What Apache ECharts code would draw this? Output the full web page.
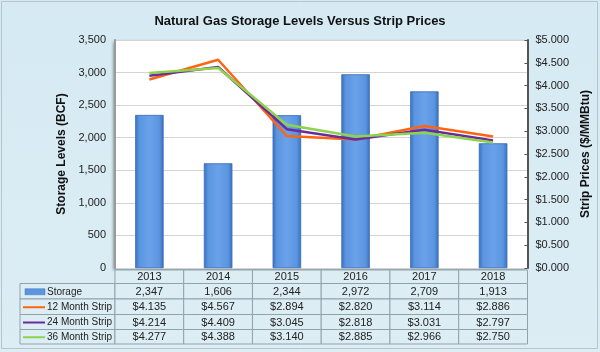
<!DOCTYPE html>
<html>
<head>
<meta charset="utf-8">
<script src="https://cdn.jsdelivr.net/npm/echarts@6/dist/echarts.min.js"></script>
<style>
  html, body { margin: 0; padding: 0; background: #fff; }
  #chart { width: 600px; height: 352px; }
</style>
</head>
<body>
<div id="chart"></div>
<script>
// chart data
const years = ['2013', '2014', '2015', '2016', '2017', '2018']
const storage = [2347, 1606, 2344, 2972, 2709, 1913]
const strip12 = [4.135, 4.567, 2.894, 2.820, 3.114, 2.886]
const strip24 = [4.214, 4.409, 3.045, 2.818, 3.031, 2.797]
const strip36 = [4.277, 4.388, 3.140, 2.885, 2.966, 2.750]
const storageTicks = [0, 500, 1000, 1500, 2000, 2500, 3000, 3500]
const priceTicks = [0, 0.5, 1, 1.5, 2, 2.5, 3, 3.5, 4, 4.5, 5]

const rows = [
  { name: 'Storage', data: storage, color: '#4a86d6', bar: true },
  { name: '12 Month Strip', data: strip12, color: '#ff6410' },
  { name: '24 Month Strip', data: strip24, color: '#6a2c9c' },
  { name: '36 Month Strip', data: strip36, color: '#8ed34c' }
]

const fmtNum = v => v.toLocaleString('en-US')
const fmtPrice = v => '$' + v.toFixed(3)

const font = 'Liberation Sans, Arial, sans-serif'
const plotL = 115, plotR = 528, plotT = 40, plotB = 268

const chart = echarts.init(document.getElementById('chart'))

chart.setOption({
  animation: false,
  backgroundColor: {
    type: 'linear', x: 0, y: 0, x2: 0, y2: 1,
    colorStops: [{ offset: 0, color: '#d6eaf3' }, { offset: 1, color: '#dcedf4' }]
  },
  textStyle: { fontFamily: font },
  title: {
    text: 'Natural Gas Storage Levels Versus Strip Prices',
    left: 'center',
    top: 10,
    textStyle: { fontSize: 13, fontWeight: 'bold', color: '#111' }
  },
  grid: {
    left: plotL, right: 600 - plotR, top: plotT, bottom: 352 - plotB,
    show: true,
    backgroundColor: '#fff',
    borderWidth: 0,
    shadowColor: 'rgba(0,0,0,0.45)',
    shadowBlur: 3,
    shadowOffsetX: -2,
    shadowOffsetY: 2
  },
  xAxis: {
    type: 'category',
    data: years,
    axisLine: { show: false },
    axisTick: { show: false },
    axisLabel: { show: false }
  },
  yAxis: [
    {
      type: 'value',
      min: 0, max: storageTicks[storageTicks.length - 1], interval: 500,
      name: 'Storage Levels (BCF)',
      nameLocation: 'middle',
      nameGap: 46,
      nameTextStyle: { fontSize: 12, fontWeight: 'bold', color: '#111' },
      axisLine: { show: true, lineStyle: { color: '#9a9a9a', width: 2 } },
      axisTick: { show: false },
      axisLabel: { formatter: fmtNum, fontSize: 11, color: '#222', margin: 9 },
      splitLine: { lineStyle: { color: '#d4d4d4', width: 1 } }
    },
    {
      type: 'value',
      min: 0, max: priceTicks[priceTicks.length - 1], interval: 0.5,
      position: 'right',
      name: 'Strip Prices ($/MMBtu)',
      nameLocation: 'middle',
      nameGap: 52,
      nameRotate: 90,
      nameTextStyle: { fontSize: 12, fontWeight: 'bold', color: '#111' },
      axisLine: { show: true, lineStyle: { color: '#555', width: 2 } },
      axisTick: { show: true, length: 3, inside: true, lineStyle: { color: '#555' } },
      axisLabel: { formatter: fmtPrice, fontSize: 11, color: '#222', margin: 8 },
      splitLine: { show: false }
    }
  ],
  series: [
    {
      name: 'Storage',
      type: 'bar',
      data: storage,
      barWidth: '41%',
      itemStyle: {
        color: {
          type: 'linear', x: 0, y: 0, x2: 1, y2: 0,
          colorStops: [
            { offset: 0, color: '#3a70bf' },
            { offset: 0.15, color: '#5b95e0' },
            { offset: 0.5, color: '#6aa2ea' },
            { offset: 0.85, color: '#5b95e0' },
            { offset: 1, color: '#3a70bf' }
          ]
        },
        borderColor: '#3a6db5',
        borderWidth: 0.5
      }
    },
    ...rows.slice(1).map(r => ({
      name: r.name,
      type: 'line',
      yAxisIndex: 1,
      data: r.data,
      symbol: 'none',
      lineStyle: { color: r.color, width: 2.5 },
      z: 3
    }))
  ]
})

// data table under the plot, columns aligned with category centres
const colW = (plotR - plotL) / years.length
const tableL = 20
const rowY = [270, 283.5, 299, 314.5, 329.5, 344]
const gfx = []
const cellFill = '#dcedf4'
const lineCol = '#8fa3ad'

// header row with years
years.forEach((y, i) => {
  const cx = chart.convertToPixel({ xAxisIndex: 0 }, i)
  gfx.push({
    type: 'rect', shape: { x: cx - colW / 2, y: rowY[0], width: colW, height: rowY[1] - rowY[0] },
    style: { fill: cellFill, stroke: lineCol, lineWidth: 1 }
  })
  gfx.push({
    type: 'text', x: cx, y: (rowY[0] + rowY[1]) / 2 + 0.5,
    style: { text: y, fill: '#222', font: '11px ' + font, align: 'center', verticalAlign: 'middle' }
  })
})

rows.forEach((r, ri) => {
  const y0 = rowY[ri + 1], y1 = rowY[ri + 2]
  const cy = (y0 + y1) / 2 + 0.5
  gfx.push({
    type: 'rect', shape: { x: tableL, y: y0, width: plotL - tableL, height: y1 - y0 },
    style: { fill: cellFill, stroke: lineCol, lineWidth: 1 }
  })
  if (r.bar) {
    gfx.push({
      type: 'rect', shape: { x: 25, y: cy - 3, width: 20, height: 6 },
      style: { fill: '#5b95e0', stroke: '#3a70bf', lineWidth: 0.5 }
    })
  } else {
    gfx.push({
      type: 'line', shape: { x1: 23, y1: cy, x2: 45, y2: cy },
      style: { stroke: r.color, lineWidth: 2 }
    })
  }
  gfx.push({
    type: 'text', x: 47, y: cy,
    style: { text: r.name, fill: '#222', font: '10px ' + font, align: 'left', verticalAlign: 'middle' }
  })
  r.data.forEach((v, i) => {
    const cx = chart.convertToPixel({ xAxisIndex: 0 }, i)
    gfx.push({
      type: 'rect', shape: { x: cx - colW / 2, y: y0, width: colW, height: y1 - y0 },
      style: { fill: cellFill, stroke: lineCol, lineWidth: 1 }
    })
    gfx.push({
      type: 'text', x: cx, y: cy,
      style: { text: r.bar ? fmtNum(v) : fmtPrice(v), fill: '#222', font: '11px ' + font, align: 'center', verticalAlign: 'middle' }
    })
  })
})

// outer frame
gfx.push({
  type: 'rect', shape: { x: 1.5, y: 1.5, width: 596, height: 347 },
  style: { fill: 'none', stroke: '#b8c4c8', lineWidth: 1 }
})

chart.setOption({ graphic: gfx })
</script>
</body>
</html>
